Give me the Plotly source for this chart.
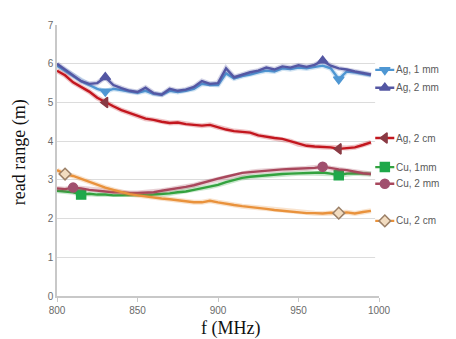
import plotly.graph_objects as go

# Frequency sweep (MHz)
freq = [800, 805, 810, 815, 820, 825, 830, 835, 840, 845,
        850, 855, 860, 865, 870, 875, 880, 885, 890, 895,
        900, 905, 910, 915, 920, 925, 930, 935, 940, 945,
        950, 955, 960, 965, 970, 975, 980, 985, 990, 995]

# Read range (m) per tag configuration
ag_1mm = [5.95, 5.82, 5.68, 5.55, 5.45, 5.35, 5.28, 5.35, 5.32, 5.28,
          5.25, 5.30, 5.22, 5.20, 5.30, 5.27, 5.30, 5.35, 5.48, 5.45,
          5.45, 5.75, 5.62, 5.68, 5.72, 5.78, 5.82, 5.80, 5.88, 5.86,
          5.90, 5.88, 5.92, 5.95, 5.88, 5.60, 5.80, 5.78, 5.74, 5.70]
ag_2mm = [6.00, 5.85, 5.70, 5.55, 5.48, 5.50, 5.65, 5.45, 5.37, 5.30,
          5.27, 5.38, 5.24, 5.20, 5.35, 5.30, 5.33, 5.40, 5.55, 5.48,
          5.50, 5.88, 5.65, 5.72, 5.78, 5.82, 5.90, 5.85, 5.93, 5.90,
          5.96, 5.92, 5.97, 6.08, 5.95, 5.88, 5.85, 5.80, 5.76, 5.72]
ag_2cm = [5.82, 5.70, 5.52, 5.40, 5.28, 5.12, 5.00, 4.90, 4.80, 4.72,
          4.65, 4.58, 4.55, 4.50, 4.47, 4.48, 4.44, 4.42, 4.40, 4.42,
          4.36, 4.30, 4.26, 4.24, 4.22, 4.15, 4.11, 4.08, 4.06, 4.00,
          3.92, 3.88, 3.86, 3.85, 3.84, 3.80, 3.82, 3.84, 3.90, 3.97]
cu_1mm = [2.72, 2.70, 2.68, 2.62, 2.64, 2.62, 2.62, 2.60, 2.60, 2.61,
          2.60, 2.61, 2.62, 2.63, 2.65, 2.68, 2.70, 2.74, 2.78, 2.82,
          2.87, 2.94, 3.00, 3.05, 3.08, 3.10, 3.12, 3.14, 3.15, 3.16,
          3.17, 3.18, 3.18, 3.19, 3.16, 3.12, 3.16, 3.17, 3.16, 3.15]
cu_2mm = [2.78, 2.76, 2.80, 2.78, 2.74, 2.72, 2.70, 2.68, 2.68, 2.66,
          2.66, 2.67, 2.68, 2.72, 2.75, 2.78, 2.82, 2.86, 2.92, 2.97,
          3.03, 3.08, 3.13, 3.18, 3.20, 3.22, 3.24, 3.25, 3.27, 3.28,
          3.29, 3.30, 3.31, 3.34, 3.30, 3.27, 3.25, 3.21, 3.17, 3.15]
cu_2cm = [3.25, 3.15, 3.10, 3.02, 2.95, 2.88, 2.80, 2.74, 2.68, 2.63,
          2.60, 2.57, 2.55, 2.52, 2.50, 2.47, 2.44, 2.42, 2.42, 2.46,
          2.42, 2.38, 2.35, 2.32, 2.30, 2.28, 2.25, 2.22, 2.20, 2.18,
          2.15, 2.14, 2.14, 2.13, 2.15, 2.14, 2.16, 2.13, 2.17, 2.20]

series_names = ["Ag, 1 mm", "Ag, 2 mm", "Ag, 2 cm", "Cu, 1mm", "Cu, 2 mm", "Cu, 2 cm"]
series_values = [ag_1mm, ag_2mm, ag_2cm, cu_1mm, cu_2mm, cu_2cm]
# frequencies at which a point marker is shown on each curve
marker_freqs = [[830, 975], [830, 965], [830, 975], [815, 975], [810, 965], [805, 975]]

x_ticks = [800, 850, 900, 950, 1000]
y_ticks = [0, 1, 2, 3, 4, 5, 6, 7]

# styling
line_colors = ["#4f97d3", "#5457a3", "#c3161e", "#33a23f", "#a8475c", "#e9923c"]
marker_symbols = ["triangle-down", "triangle-up", "triangle-left", "square", "circle", "diamond"]
marker_fill = ["#4f97d3", "#5457a3", "#8a3a44", "#1fa84a", "#a0506e", "#f2dcc0"]
marker_edge = ["#4f97d3", "#5457a3", "#8a3a44", "#1fa84a", "#a0506e", "#9b7f66"]
key_y = [5.84, 5.38, 4.08, 3.33, 2.90, 1.94]   # vertical placement of the series keys

W, H = 456, 339
L, R, T, B = 57, 0, 25, 43
plot_w = W - L - R
def px_to_paper(px):
    return (px - L) / plot_w

fig = go.Figure()

for name, vals, col, sym, mf, me, mfr in zip(series_names, series_values, line_colors,
                                              marker_symbols, marker_fill, marker_edge, marker_freqs):
    # soft halo under the curve
    fig.add_trace(go.Scatter(x=freq, y=vals, mode="lines", line=dict(color=col, width=5),
                             opacity=0.25, hoverinfo="skip", showlegend=False))
    fig.add_trace(go.Scatter(x=freq, y=vals, mode="lines", name=name,
                             line=dict(color=col, width=2.4), showlegend=False))
    idx = [freq.index(f) for f in mfr]
    fig.add_trace(go.Scatter(x=[freq[i] for i in idx], y=[vals[i] for i in idx], mode="markers",
                             marker=dict(symbol=sym, size=9, color=mf, line=dict(color=me, width=1.5)),
                             showlegend=False, hoverinfo="skip"))
    # series key on the right
    fig.add_trace(go.Scatter(x=[0, 0.5, 1], y=[ky := key_y[series_names.index(name)]] * 3,
                             mode="lines", line=dict(color=col, width=2.4),
                             xaxis="x2", yaxis="y2", showlegend=False, hoverinfo="skip"))
    fig.add_trace(go.Scatter(x=[0.5], y=[ky], mode="markers",
                             marker=dict(symbol=sym, size=9, color=mf, line=dict(color=me, width=1.5)),
                             xaxis="x2", yaxis="y2", showlegend=False, hoverinfo="skip"))
    fig.add_annotation(text=name, xref="paper", yref="y", x=px_to_paper(404), y=ky,
                       xanchor="left", yanchor="middle", showarrow=False,
                       font=dict(family="Liberation Sans", size=10, color="#5a5a5a"))

tick_font = dict(family="Liberation Sans", size=10, color="#6a6a6a")
fig.update_layout(
    width=W, height=H,
    margin=dict(l=L, r=R, t=T, b=B),
    paper_bgcolor="white", plot_bgcolor="white",
    xaxis=dict(domain=[0, px_to_paper(389)], range=[800, 1000], tickvals=x_ticks,
               showgrid=False, zeroline=False, showline=True, linecolor="#c8c8c8", linewidth=1.5,
               ticks="outside", ticklen=4, tickcolor="#c8c8c8", tickfont=tick_font),
    yaxis=dict(range=[0, 7], tickvals=y_ticks, showgrid=True, gridcolor="#dcdcdc", gridwidth=1.2,
               zeroline=False, showline=True, linecolor="#c8c8c8", linewidth=1.5,
               ticks="", tickfont=tick_font),
    xaxis2=dict(domain=[px_to_paper(385), px_to_paper(405)], range=[0, 1], visible=False,
                anchor="y2"),
    yaxis2=dict(range=[0, 7], visible=False, anchor="x2", overlaying="y"),
    showlegend=False,
)

title_font = dict(family="Liberation Serif", size=18, color="#111111")
fig.add_annotation(text="f (MHz)", xref="paper", yref="paper", x=px_to_paper(236),
                   y=-(328 - (H - B)) / (H - T - B), xanchor="center", yanchor="middle",
                   showarrow=False, font=title_font)
fig.add_annotation(text="read range (m)", xref="paper", yref="paper", x=px_to_paper(18),
                   y=(H - B - 152) / (H - T - B), xanchor="center", yanchor="middle",
                   textangle=-90, showarrow=False, font=title_font)

fig.write_html("out.html")
